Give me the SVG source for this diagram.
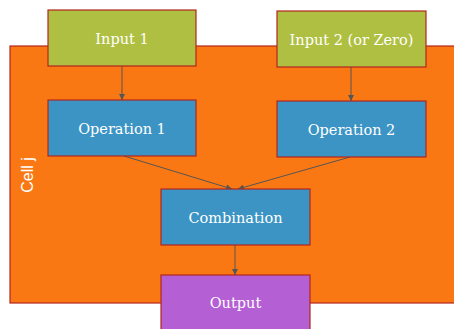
<svg xmlns="http://www.w3.org/2000/svg" width="454" height="329" viewBox="0 0 454 329">
<style>
.box{stroke:#B3261E;stroke-width:1.2}
.lbl{font-family:"DejaVu Serif","Liberation Serif",serif;font-size:14.5px;fill:#ffffff;text-anchor:middle}
.conn{stroke:#555555;stroke-width:1;fill:none;marker-end:url(#ah)}
</style>
<defs>
<marker id="ah" viewBox="0 0 8 8" refX="8" refY="4" markerWidth="6" markerHeight="6" markerUnits="userSpaceOnUse" orient="auto">
<path d="M0,0 L8,4 L0,8 z" fill="#555555"/>
</marker>
</defs>
<g id="cell">
<rect x="10" y="46" width="450" height="257" fill="#FA7814" class="box"/>
<text x="33" y="175" transform="rotate(-90 33 175)" style="font-family:'Liberation Sans',Arial,sans-serif;font-size:16px;fill:#ffffff;text-anchor:middle">Cell j</text>
</g>
<g id="connectors">
<line x1="122" y1="66" x2="122" y2="100" class="conn"/>
<line x1="351" y1="67" x2="351" y2="101" class="conn"/>
<line x1="124" y1="156" x2="232" y2="189" class="conn"/>
<line x1="350" y1="157" x2="238" y2="189" class="conn"/>
<line x1="235" y1="245" x2="235" y2="275" class="conn"/>
</g>
<g id="input1">
<rect x="48" y="10" width="148" height="56" fill="#AFBF41" class="box"/>
<text x="122" y="43.5" class="lbl">Input 1</text>
</g>
<g id="input2">
<rect x="277" y="11" width="149" height="56" fill="#AFBF41" class="box"/>
<text x="351.5" y="45" class="lbl">Input 2 (or Zero)</text>
</g>
<g id="op1">
<rect x="48" y="100" width="148" height="56" fill="#3B94C4" class="box"/>
<text x="122" y="133.5" class="lbl">Operation 1</text>
</g>
<g id="op2">
<rect x="277" y="101" width="149" height="56" fill="#3B94C4" class="box"/>
<text x="351.5" y="135" class="lbl">Operation 2</text>
</g>
<g id="combination">
<rect x="161" y="189" width="149" height="56" fill="#3B94C4" class="box"/>
<text x="235.5" y="223" class="lbl">Combination</text>
</g>
<g id="output">
<rect x="161" y="275" width="149" height="60" fill="#B55FD4" class="box"/>
<text x="235.5" y="308" class="lbl">Output</text>
</g>
</svg>
